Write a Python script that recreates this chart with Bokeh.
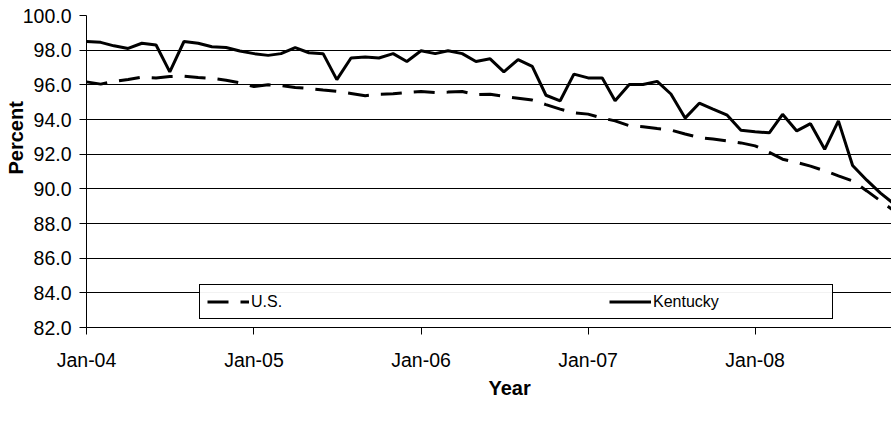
import pandas as pd
from bokeh.models import (ColumnDataSource, FixedTicker, NumeralTickFormatter,
                          DatetimeTickFormatter, Range1d, Title, Legend,
                          LegendItem)
from bokeh.plotting import figure
from bokeh.embed import file_html
from bokeh.resources import INLINE

# Monthly series, Jan-04 onwards (percent)
start_month = "2004-01-01"
kentucky = [98.5, 98.45, 98.25, 98.1, 98.4, 98.3, 96.75, 98.5, 98.4, 98.2,
            98.15, 97.95, 97.8, 97.7, 97.8, 98.15, 97.85, 97.8, 96.3, 97.55,
            97.6, 97.55, 97.8, 97.35, 97.97, 97.8, 97.97, 97.8, 97.35, 97.5,
            96.75, 97.45, 97.07, 95.4, 95.08, 96.62, 96.4, 96.4, 95.08, 96.02,
            96.02, 96.2, 95.47, 94.08, 94.94, 94.6, 94.25, 93.38, 93.3, 93.23,
            94.3, 93.34, 93.76, 92.28, 93.92, 91.35, 90.5, 89.75, 89.1]
us = [96.17, 96.04, 96.2, 96.31, 96.44, 96.4, 96.48, 96.5, 96.42, 96.37,
      96.27, 96.12, 95.9, 96.0, 95.96, 95.85, 95.79, 95.7, 95.62, 95.5,
      95.37, 95.46, 95.48, 95.56, 95.62, 95.56, 95.58, 95.62, 95.43, 95.46,
      95.33, 95.23, 95.12, 94.86, 94.6, 94.39, 94.31, 94.08, 93.92, 93.64,
      93.58, 93.48, 93.39, 93.16, 92.96, 92.87, 92.77, 92.65, 92.48, 92.1,
      91.71, 91.52, 91.31, 91.04, 90.75, 90.46, 89.88, 89.3, 88.7]
year_ticks = ["2004-01-01", "2005-01-01", "2006-01-01", "2007-01-01", "2008-01-01"]
y_ticks = [82, 84, 86, 88, 90, 92, 94, 96, 98, 100]

FONT = "Liberation Sans"

months = pd.date_range(start_month, periods=len(kentucky), freq="MS")
src = ColumnDataSource(dict(month=months, ky=kentucky, us=us))

# fixed frame size keeps the plot area where the reference has it
p = figure(frame_width=805, frame_height=312, x_axis_type="datetime",
           x_range=Range1d(pd.Timestamp("2004-01-01"), pd.Timestamp("2008-10-25")),
           y_range=Range1d(82, 100),
           output_backend="svg", toolbar_location=None,
           min_border_left=86, min_border_right=0,
           min_border_top=15, min_border_bottom=106)
p.outline_line_color = None
p.background_fill_color = "white"
p.border_fill_color = "white"

# gridlines
p.xgrid.visible = False
p.ygrid.grid_line_color = "black"
p.ygrid.grid_line_width = 1

# y axis
p.yaxis.ticker = FixedTicker(ticks=y_ticks)
p.yaxis.formatter = NumeralTickFormatter(format="0.0")
p.yaxis.major_label_text_font = FONT
p.yaxis.major_label_text_font_size = "19.5px"
p.yaxis.major_label_text_color = "black"
p.yaxis.major_label_standoff = 8
p.yaxis.major_tick_out = 7
p.yaxis.major_tick_in = 0
p.yaxis.minor_tick_line_color = None
p.yaxis.axis_line_color = "black"
p.yaxis.major_tick_line_color = "black"

# x axis
p.xaxis.ticker = FixedTicker(ticks=[pd.Timestamp(t).value / 1e6 for t in year_ticks])
p.xaxis.formatter = DatetimeTickFormatter(years="%b-%y", months="%b-%y",
                                          days="%b-%y", hours="%b-%y")
p.xaxis.major_label_text_font = FONT
p.xaxis.major_label_text_font_size = "19.5px"
p.xaxis.major_label_text_color = "black"
p.xaxis.major_label_standoff = 14
p.xaxis.major_tick_out = 7
p.xaxis.major_tick_in = 0
p.xaxis.minor_tick_line_color = None
p.xaxis.axis_line_color = "black"
p.xaxis.major_tick_line_color = "black"

us_r = p.line("month", "us", source=src, line_color="black", line_width=3,
              line_dash="21 12")
ky_r = p.line("month", "ky", source=src, line_color="black", line_width=3)

# axis titles
p.add_layout(Title(text="Percent", align="left", offset=153, standoff=-14,
                   text_font=FONT, text_font_size="20px",
                   text_font_style="bold", text_color="black"), "left")
p.add_layout(Title(text="Year", align="left", offset=402, standoff=2,
                   text_font=FONT, text_font_size="20px",
                   text_font_style="bold", text_color="black"), "below")

# legend kept inside the frame, in the empty band at the bottom
legend = Legend(items=[LegendItem(label="U.S.", renderers=[us_r]),
                       LegendItem(label="Kentucky", renderers=[ky_r])],
                location=(113, 8), orientation="horizontal",
                padding=7, margin=0, spacing=186,
                glyph_width=42, glyph_height=19,
                label_width=172, label_height=19, label_standoff=2,
                label_text_font=FONT, label_text_font_size="16px",
                label_text_color="black",
                border_line_color="black", border_line_width=1,
                border_line_alpha=1, background_fill_color="white")
p.add_layout(legend)

open("out.html", "w").write(file_html(p, INLINE))
